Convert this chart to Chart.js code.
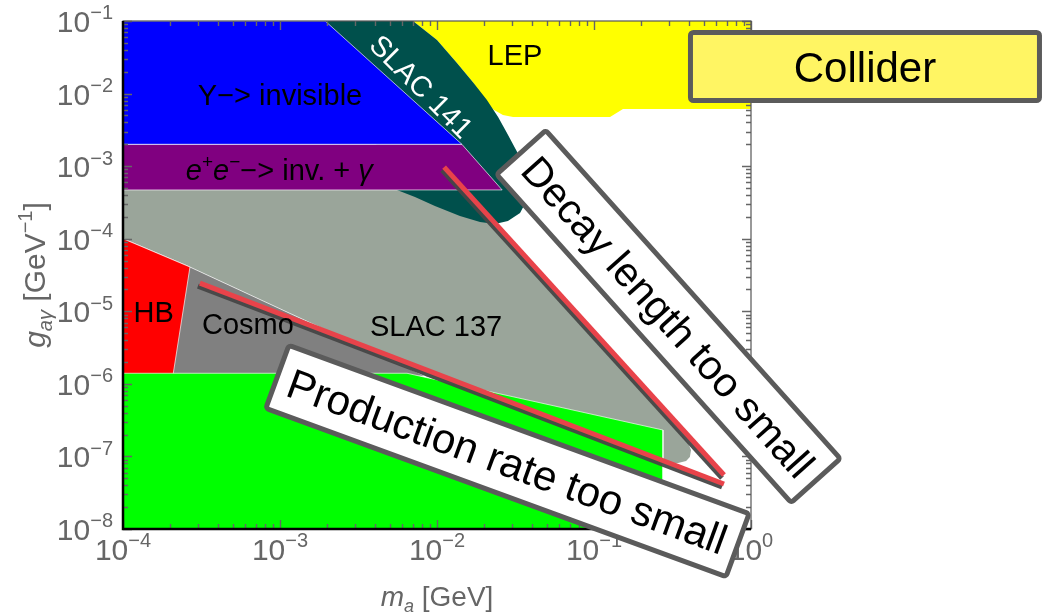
<!DOCTYPE html>
<html>
<head>
<meta charset="utf-8">
<script src="https://cdn.jsdelivr.net/npm/chart.js@4.4.1/dist/chart.umd.min.js"></script>
<style>
  html, body { margin: 0; padding: 0; background: #fff; }
  #wrap { width: 1043px; height: 614px; position: relative; }
</style>
</head>
<body>
<div id="wrap"><canvas id="c" width="1043" height="614"></canvas></div>
<script>
// ---- axes ----
const xRange = [1e-4, 1];
const yRange = [1e-8, 1e-1];
const xTickValues = [1e-4, 1e-3, 1e-2, 1e-1, 1];
const xTickExps = ['−4', '−3', '−2', '−1', '0'];
const yTickValues = [1e-1, 1e-2, 1e-3, 1e-4, 1e-5, 1e-6, 1e-7, 1e-8];
const yTickExps = ['−1', '−2', '−3', '−4', '−5', '−6', '−7', '−8'];

// ---- excluded regions (m_a in GeV, g_aγ in GeV^-1) ----
const upsilonM = [1e-4, 1.94e-3, 1.44e-2, 1e-4];
const upsilonG = [0.1, 0.1, 2e-3, 2e-3];

const eeInvM = [1e-4, 1.44e-2, 2.6e-2, 1e-4];
const eeInvG = [2e-3, 2e-3, 4.7e-4, 4.7e-4];

const slac141M = [1.8e-3, 7.03e-3, 1.0e-2, 1.34e-2, 1.69e-2, 2.08e-2, 2.45e-2, 2.79e-2, 3.24e-2, 3.58e-2,
                  3.74e-2, 3.74e-2, 3.38e-2, 2.83e-2, 2.34e-2, 1.88e-2, 1.40e-2, 9.7e-3, 7.24e-3, 5.56e-3];
const slac141G = [0.1, 0.1, 5.47e-2, 2.64e-2, 1.44e-2, 8.15e-3, 4.75e-3, 2.86e-3, 1.57e-3, 8.85e-4,
                  5.5e-4, 3.41e-4, 2.26e-4, 1.75e-4, 1.6e-4, 1.70e-4, 2.06e-4, 2.82e-4, 3.76e-4, 4.69e-4];

const lepM = [7.03e-3, 1.0e-2, 1.34e-2, 1.69e-2, 1.82e-2, 2.05e-2, 2.31e-2, 2.63e-2, 3.05e-2, 0.1265, 0.153, 1, 1];
const lepG = [0.1, 5.47e-2, 2.64e-2, 1.44e-2, 1.12e-2, 7.41e-3, 5.94e-3, 5.07e-3, 4.75e-3, 4.75e-3, 6.13e-3, 6.13e-3, 0.1];

const slac137M = [1e-4, 2.71e-2, 2.41e-2, 0.142, 0.369, 0.397, 0.415, 0.408, 0.386, 0.343, 0.275, 8.4e-3, 2.67e-4, 1e-4];
const slac137G = [4.7e-4, 4.7e-4, 1.41e-4, 2.13e-6, 1.91e-7, 1.53e-7, 1.23e-7, 9.8e-8, 8.65e-8, 8.1e-8, 7.87e-8, 1.28e-6, 4.07e-5, 1e-4];

const cosmoM = [1e-4, 2.67e-4, 8.4e-3, 1e-4];
const cosmoG = [1e-4, 4.07e-5, 1.28e-6, 1.28e-6];

const hbM = [1e-4, 2.67e-4, 2.08e-4, 1e-4];
const hbG = [1e-4, 4.07e-5, 1.3e-6, 1.3e-6];

const beamDumpM = [1e-4, 6.44e-3, 0.275, 0.275, 1e-4];
const beamDumpG = [1.4e-6, 1.4e-6, 2.31e-7, 1e-8, 1e-8];

// ---- sketched reach limits ----
const decayLineM = [1.11e-2, 0.673];
const decayLineG = [9.7e-4, 5.55e-8];
const prodLineM = [3.09e-4, 0.673];
const prodLineG = [2.45e-5, 4.17e-8];

// ---- text placed in data coordinates ----
const regionLabels = [
  { runs: [{ t: 'Υ−> invisible' }], m: 1e-3, g: 9.55e-3, color: '#000', rot: 0 },
  { runs: [{ t: 'e', it: true }, { t: '+', sup: true }, { t: 'e', it: true }, { t: '−', sup: true },
           { t: '−> inv. + ' }, { t: 'γ', it: true }], m: 9.9e-4, g: 8.85e-4, color: '#000', rot: 0 },
  { runs: [{ t: 'LEP' }], m: 3.14e-2, g: 3.4e-2, color: '#000', rot: 0 },
  { runs: [{ t: 'SLAC 141' }], m: 8.0e-3, g: 1.27e-2, color: '#fff', rot: 45 },
  { runs: [{ t: 'HB' }], m: 1.57e-4, g: 9.8e-6, color: '#000', rot: 0 },
  { runs: [{ t: 'Cosmo' }], m: 6.25e-4, g: 6.68e-6, color: '#000', rot: 0 },
  { runs: [{ t: 'SLAC 137' }], m: 9.86e-3, g: 6.27e-6, color: '#000', rot: 0 }
];

const tagBoxes = [
  { text: 'Collider', m: 5.32, g: 2.36e-2, w: 354, h: 73, rot: 0, fill: '#fff563', size: 42 },
  { text: 'Decay length too small', m: 0.298, g: 8.47e-6, w: 446, h: 71, rot: 48.1, fill: '#ffffff', size: 41 },
  { text: 'Production rate too small', m: 2.81e-2, g: 8.65e-8, w: 495, h: 72, rot: 20.1, fill: '#ffffff', size: 42 }
];

// ---- helpers ----
function pts(ms, gs, close) {
  const out = ms.map((m, i) => ({ x: m, y: gs[i] }));
  if (close) out.push({ x: ms[0], y: gs[0] });
  return out;
}
function region(label, ms, gs, color, order, edge) {
  return {
    label, data: pts(ms, gs, true), order,
    showLine: true, tension: 0, pointRadius: 0,
    backgroundColor: color, fill: 'shape',
    borderColor: edge ? 'rgba(255,255,255,0.65)' : 'rgba(0,0,0,0)',
    borderWidth: edge ? 1 : 0.01
  };
}
function limitLine(label, ms, gs, order) {
  return {
    label, data: pts(ms, gs, false), order, shadow: true,
    showLine: true, tension: 0, pointRadius: 0, fill: false,
    borderColor: '#e8434a', borderWidth: 5, borderCapStyle: 'butt'
  };
}

const FONT = '"Liberation Sans", Arial, Helvetica, sans-serif';
function runFont(r, size) {
  const s = (r.sup || r.sub) ? Math.round(size * 0.66) : size;
  return (r.it ? 'italic ' : '') + s + 'px ' + FONT;
}
function runsWidth(ctx, runs, size) {
  let w = 0;
  for (const r of runs) { ctx.font = runFont(r, size); w += ctx.measureText(r.t).width; }
  return w;
}
function drawRuns(ctx, runs, x, y, size, align) {
  const w = runsWidth(ctx, runs, size);
  let cx = align === 'center' ? x - w / 2 : (align === 'right' ? x - w : x);
  ctx.textAlign = 'left';
  ctx.textBaseline = 'alphabetic';
  for (const r of runs) {
    ctx.font = runFont(r, size);
    const dy = r.sup ? -size * 0.42 : (r.sub ? size * 0.22 : 0);
    ctx.fillText(r.t, cx, y + dy);
    cx += ctx.measureText(r.t).width;
  }
}

// dark drop shadow under the limit lines
const lineShadow = {
  id: 'lineShadow',
  beforeDatasetDraw(chart, args) {
    if (chart.data.datasets[args.index].shadow) {
      const c = chart.ctx;
      c.save();
      c.shadowColor = 'rgba(70,70,70,0.95)';
      c.shadowOffsetX = -2;
      c.shadowOffsetY = 3;
      c.shadowBlur = 0;
    }
  },
  afterDatasetDraw(chart, args) {
    if (chart.data.datasets[args.index].shadow) chart.ctx.restore();
  }
};

// frame, ticks, tick labels, axis titles, region labels and tag boxes
const decorations = {
  id: 'decorations',
  afterDraw(chart) {
    const ctx = chart.ctx;
    const xs = chart.scales.x, ys = chart.scales.y;
    const { left, right, top, bottom } = chart.chartArea;

    // region labels
    for (const L of regionLabels) {
      const px = xs.getPixelForValue(L.m), py = ys.getPixelForValue(L.g);
      ctx.save();
      ctx.translate(px, py);
      ctx.rotate(L.rot * Math.PI / 180);
      ctx.fillStyle = L.color;
      drawRuns(ctx, L.runs, 0, 29 * 0.36, 29, 'center');
      ctx.restore();
    }

    // ticks on all four sides
    ctx.save();
    ctx.strokeStyle = '#666';
    ctx.lineWidth = 1.4;
    ctx.beginPath();
    for (let k = -4; k <= 0; k++) {
      for (let m = 1; m <= 9; m++) {
        const v = m * Math.pow(10, k);
        if (v > xRange[1] * 1.0001) break;
        const px = Math.round(xs.getPixelForValue(v)) + 0.5;
        const len = m === 1 ? 9 : 5;
        ctx.moveTo(px, bottom); ctx.lineTo(px, bottom - len);
        ctx.moveTo(px, top); ctx.lineTo(px, top + len);
      }
    }
    for (let k = -8; k <= -1; k++) {
      for (let m = 1; m <= 9; m++) {
        const v = m * Math.pow(10, k);
        if (v > yRange[1] * 1.0001) break;
        const py = Math.round(ys.getPixelForValue(v)) + 0.5;
        const len = m === 1 ? 9 : 5;
        ctx.moveTo(left, py); ctx.lineTo(left + len, py);
        ctx.moveTo(right, py); ctx.lineTo(right - len, py);
      }
    }
    ctx.stroke();

    // frame
    ctx.strokeStyle = '#555';
    ctx.lineWidth = 1.2;
    ctx.strokeRect(left, top, right - left, bottom - top);
    ctx.strokeStyle = '#000';
    ctx.lineWidth = 2.5;
    ctx.beginPath();
    ctx.moveTo(left, top); ctx.lineTo(left, bottom); ctx.lineTo(right, bottom);
    ctx.stroke();
    ctx.restore();

    // tick labels
    ctx.save();
    ctx.fillStyle = '#666';
    xTickValues.forEach((v, i) => {
      drawRuns(ctx, [{ t: '10' }, { t: xTickExps[i], sup: true }], xs.getPixelForValue(v), 560, 30, 'center');
    });
    yTickValues.forEach((v, i) => {
      drawRuns(ctx, [{ t: '10' }, { t: yTickExps[i], sup: true }], 113, ys.getPixelForValue(v) + 11, 30, 'right');
    });

    // axis titles
    drawRuns(ctx, [{ t: 'm', it: true }, { t: 'a', it: true, sub: true }, { t: ' [GeV]' }],
             (left + right) / 2, 606, 28, 'center');
    ctx.translate(45, (top + bottom) / 2);
    ctx.rotate(-Math.PI / 2);
    drawRuns(ctx, [{ t: 'g', it: true }, { t: 'aγ', it: true, sub: true }, { t: ' [GeV' },
                   { t: '−1', sup: true }, { t: ']' }], 0, 0, 30, 'center');
    ctx.restore();

    // tag boxes
    for (const B of tagBoxes) {
      const cx = xs.getPixelForValue(B.m), cy = ys.getPixelForValue(B.g);
      ctx.save();
      ctx.translate(cx, cy);
      ctx.rotate(B.rot * Math.PI / 180);
      ctx.fillStyle = B.fill;
      ctx.strokeStyle = '#5b5b5b';
      ctx.lineWidth = 5;
      ctx.lineJoin = 'round';
      ctx.beginPath();
      ctx.roundRect(-B.w / 2 + 2.5, -B.h / 2 + 2.5, B.w - 5, B.h - 5, 3);
      ctx.fill();
      ctx.stroke();
      ctx.fillStyle = '#000';
      drawRuns(ctx, [{ t: B.text }], 0, B.size * 0.36, B.size, 'center');
      ctx.restore();
    }
  }
};

new Chart(document.getElementById('c'), {
  type: 'scatter',
  data: {
    datasets: [
      limitLine('Production rate too small', prodLineM, prodLineG, 0),
      limitLine('Decay length too small', decayLineM, decayLineG, 1),
      region('Υ -> invisible', upsilonM, upsilonG, '#0000ff', 2, true),
      region('e+e- -> inv. + γ', eeInvM, eeInvG, '#800080', 3, true),
      region('SLAC 141', slac141M, slac141G, '#00504c', 4, false),
      region('LEP', lepM, lepG, '#ffff00', 5, false),
      region('Beam dump', beamDumpM, beamDumpG, '#00ff00', 6, true),
      region('HB', hbM, hbG, '#ff0000', 7, true),
      region('Cosmo', cosmoM, cosmoG, '#808080', 8, true),
      region('SLAC 137', slac137M, slac137G, '#9aa59a', 9, false)
    ]
  },
  options: {
    responsive: false,
    animation: false,
    events: [],
    layout: { padding: { top: 21, right: 292, left: 0, bottom: 0 } },
    plugins: { legend: { display: false }, tooltip: { enabled: false } },
    scales: {
      x: {
        type: 'logarithmic', position: 'bottom', min: xRange[0], max: xRange[1],
        grid: { display: false }, border: { display: false }, ticks: { display: false },
        afterFit(s) { s.height = 85; }
      },
      y: {
        type: 'logarithmic', position: 'left', min: yRange[0], max: yRange[1],
        grid: { display: false }, border: { display: false }, ticks: { display: false },
        afterFit(s) { s.width = 123; }
      }
    }
  },
  plugins: [lineShadow, decorations]
});
</script>
</body>
</html>
